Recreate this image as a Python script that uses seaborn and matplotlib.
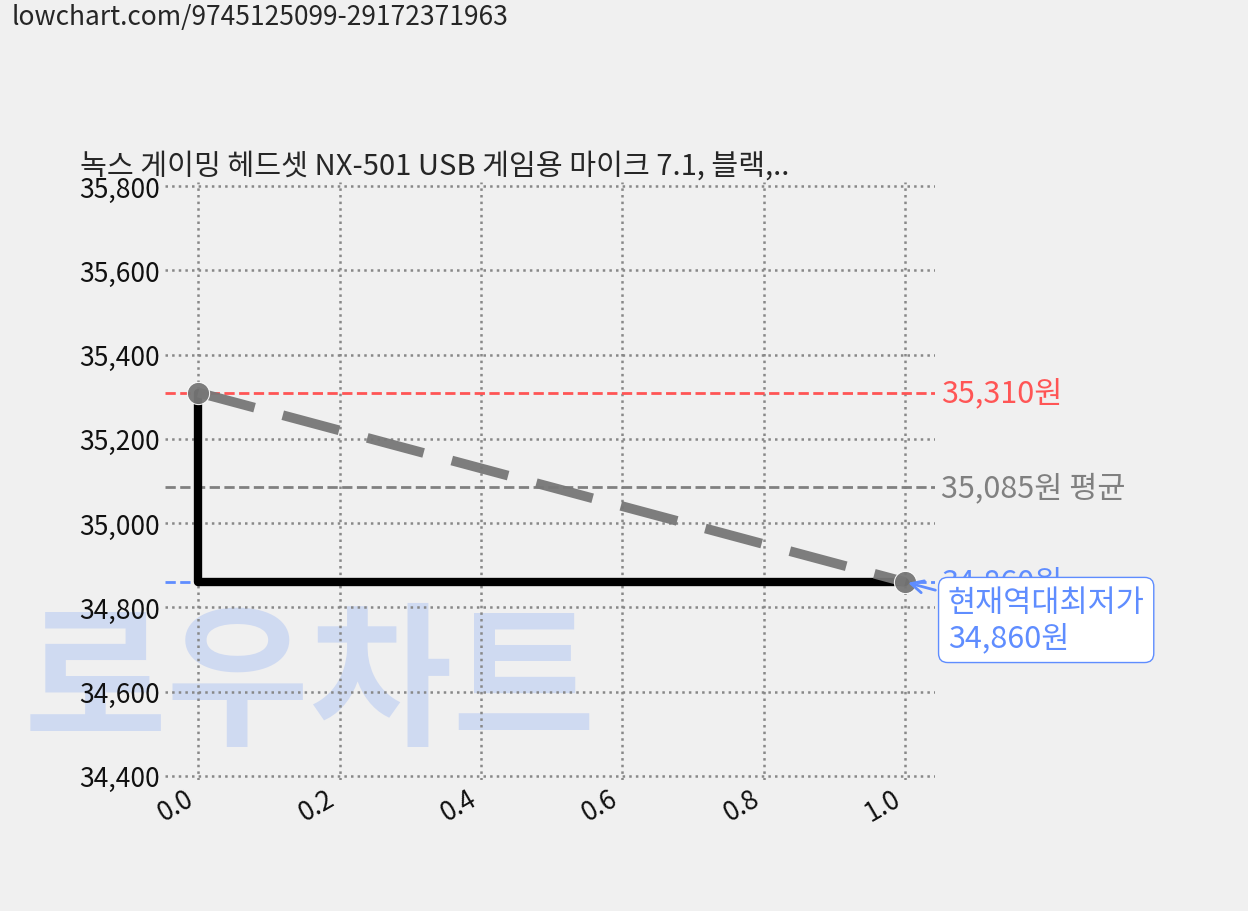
import matplotlib
matplotlib.use("Agg")
import matplotlib.pyplot as plt
import seaborn as sns
import pandas as pd

x_vals = [0.0, 1.0]
prices = [35310, 34860]
max_price = 35310
avg_price = 35085
min_price = 34860
title = "녹스 게이밍 헤드셋 NX-501 USB 게임용 마이크 7.1, 블랙,.."
url = "lowchart.com/9745125099-29172371963"

sns.set_theme(style="white")
plt.rcParams['font.family'] = ['Noto Sans CJK KR', 'DejaVu Sans']
bg = "#f0f0f0"
fig = plt.figure(figsize=(12.48, 9.12), dpi=100, facecolor=bg)
ax = fig.add_axes([165/1248, 1-781/912, (935-165)/1248, (781-183)/912], facecolor=bg)
ax.set_zorder(1)
ax.patch.set_alpha(0)
df = pd.DataFrame({"x": x_vals, "y": prices})

fig.text(310/1248, 1-688/912, "로우차트", fontsize=112, color="#c5d3f2", alpha=0.75,
         ha="center", va="center", fontweight="black", zorder=0)

ax.axhline(max_price, color="#ff5555", ls="--", lw=2, zorder=2)
ax.axhline(avg_price, color="#808080", ls="--", lw=2, zorder=2)
ax.axhline(min_price, color="#5f8dff", ls="--", lw=2, zorder=2)
ax.plot(x_vals, prices, drawstyle="steps-pre", color="black", lw=6, zorder=3)
sns.lineplot(data=df, x="x", y="y", ax=ax, color="#777777", lw=7, zorder=4,
             marker="o", markersize=16, alpha=0.95)
ax.lines[-1].set_dashes([6, 3])

ax.set_xlim(-0.047, 1.042)
ax.set_ylim(34390, 35810)
ax.set_yticks(range(34400, 35801, 200))
ax.set_yticklabels([f"{v:,}" for v in range(34400, 35801, 200)], fontsize=19)
ax.set_xticks([0, 0.2, 0.4, 0.6, 0.8, 1.0])
ax.set_xticklabels(["0.0", "0.2", "0.4", "0.6", "0.8", "1.0"], fontsize=19, rotation=30, ha="right")
ax.grid(True, color="#888888", ls=":", lw=1.8)
for s in ax.spines.values():
    s.set_visible(False)
ax.set_xlabel(""); ax.set_ylabel("")
ax.tick_params(length=0, colors="#111111")
ax.set_title(title, fontsize=21, loc="left", x=-0.11, pad=6)

ax.text(1.05, max_price, f"{max_price:,}원", color="#ff5555", fontsize=22, va="center")
ax.text(1.05, avg_price, f"{avg_price:,}원 평균", color="#808080", fontsize=22, va="center")
ax.text(1.05, min_price, f"{min_price:,}원", color="#5f8dff", fontsize=22, va="center")
ax.annotate(f"현재역대최저가\n{min_price:,}원", xy=(1.0, min_price), xytext=(1.06, 34770),
            color="#5f8dff", fontsize=22, va="center", ha="left",
            bbox=dict(boxstyle="round,pad=0.3", fc="white", ec="#5f8dff"),
            arrowprops=dict(arrowstyle="->", color="#5f8dff", lw=2), zorder=10,
            annotation_clip=False)

fig.text(12/1248, 1-17/912, url, fontsize=19, va="center", ha="left")
fig.savefig("out.png", dpi=100, facecolor=bg)
